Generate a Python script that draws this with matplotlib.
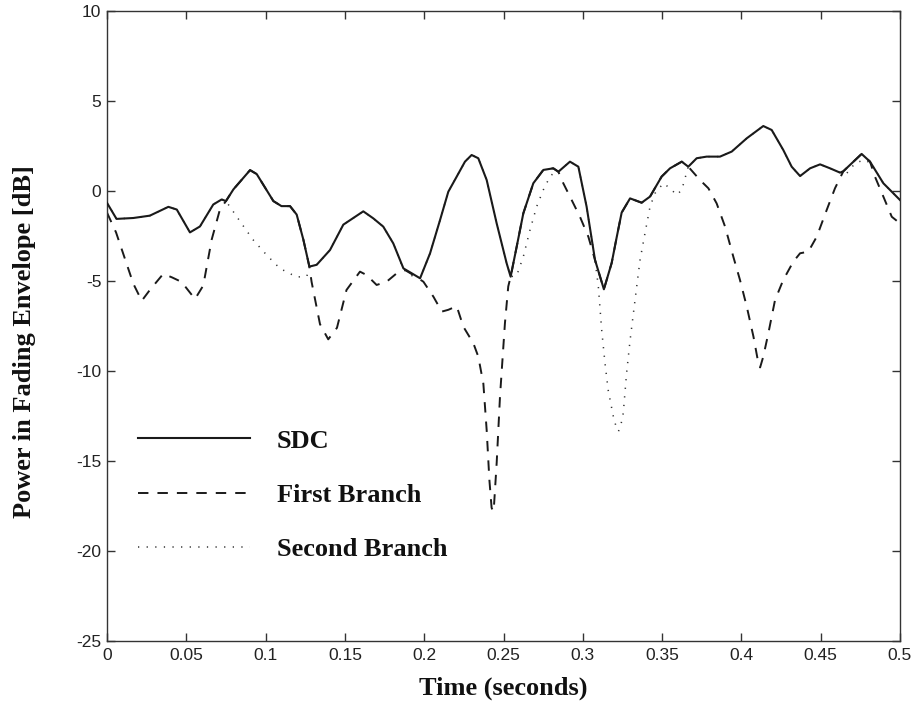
import matplotlib
matplotlib.use("Agg")
import matplotlib.pyplot as plt

# ---------------- data ----------------
sdc_t = [0.000, 0.006, 0.0166, 0.027, 0.0387, 0.044, 0.0523, 0.0586, 0.067, 0.0723,
         0.075, 0.0797, 0.0902, 0.0944, 0.1049, 0.110, 0.1154, 0.1196, 0.1238, 0.1276,
         0.1322, 0.1406, 0.149, 0.1616, 0.1679, 0.1742, 0.1805, 0.1869, 0.1921, 0.1974,
         0.2037, 0.210, 0.2152, 0.2205, 0.2257, 0.2299, 0.2341, 0.2394, 0.2457, 0.252,
         0.2545, 0.2583, 0.2625, 0.2688, 0.2751, 0.2814, 0.2846, 0.2919, 0.2972, 0.3024,
         0.3077, 0.3133, 0.3182, 0.3213, 0.3245, 0.3298, 0.3371, 0.3424, 0.3497, 0.355,
         0.3624, 0.3665, 0.3718, 0.3781, 0.3865, 0.3939, 0.4034, 0.4138, 0.4191, 0.4264,
         0.4317, 0.437, 0.4433, 0.4496, 0.4559, 0.4622, 0.4643, 0.4685, 0.4758, 0.4811,
         0.4895, 0.500]
sdc_v = [-0.66, -1.55, -1.50, -1.37, -0.88, -1.03, -2.30, -1.97, -0.75, -0.47,
         -0.56, 0.09, 1.16, 0.94, -0.56, -0.84, -0.84, -1.31, -2.70, -4.20,
         -4.10, -3.28, -1.87, -1.13, -1.52, -1.98, -2.91, -4.30, -4.57, -4.85,
         -3.46, -1.61, -0.04, 0.80, 1.63, 2.00, 1.82, 0.61, -1.80, -4.02,
         -4.76, -3.10, -1.24, 0.43, 1.17, 1.26, 1.07, 1.63, 1.35, -0.87,
         -3.83, -5.46, -4.00, -2.60, -1.20, -0.41, -0.65, -0.31, 0.80, 1.26,
         1.63, 1.35, 1.82, 1.91, 1.91, 2.19, 2.93, 3.61, 3.39, 2.28,
         1.35, 0.83, 1.26, 1.48, 1.26, 1.02, 1.10, 1.45, 2.06, 1.63,
         0.43, -0.50]

first_t = [0.000, 0.0057, 0.0166, 0.0219, 0.027, 0.0355, 0.041, 0.047, 0.0555, 0.0607,
           0.066, 0.0712, 0.075, 0.0797, 0.0902, 0.0944, 0.1049, 0.110, 0.1154, 0.1196,
           0.1238, 0.1276, 0.129, 0.1343, 0.1395, 0.145, 0.151, 0.1595, 0.1637, 0.170,
           0.1763, 0.1827, 0.1879, 0.1932, 0.1995, 0.2058, 0.2111, 0.2152, 0.2205, 0.2247,
           0.231, 0.2341, 0.2373, 0.2394, 0.2411, 0.2425, 0.2435, 0.244, 0.2457, 0.2478,
           0.2509, 0.253, 0.2545, 0.2583, 0.2625, 0.2688, 0.2751, 0.2814, 0.2846, 0.2877,
           0.2919, 0.2982, 0.3035, 0.3077, 0.3133, 0.3182, 0.3213, 0.3245, 0.3298, 0.3371,
           0.3424, 0.3497, 0.355, 0.3624, 0.3665, 0.3739, 0.3792, 0.3844, 0.3897, 0.3949,
           0.3991, 0.4034, 0.4076, 0.4107, 0.4118, 0.4138, 0.417, 0.4212, 0.4264, 0.4327,
           0.437, 0.4422, 0.4475, 0.4538, 0.459, 0.4643, 0.4685, 0.4758, 0.4811, 0.4842,
           0.4895, 0.4948, 0.500]
first_v = [-1.20, -2.30, -5.15, -6.10, -5.50, -4.60, -4.80, -5.05, -6.00, -5.25,
           -2.70, -1.03, -0.56, 0.09, 1.16, 0.94, -0.56, -0.84, -0.84, -1.31,
           -2.70, -4.20, -5.05, -7.40, -8.24, -7.60, -5.50, -4.48, -4.67, -5.22,
           -5.04, -4.57, -4.39, -4.67, -5.04, -5.87, -6.70, -6.60, -6.40, -7.54,
           -8.46, -9.20, -10.70, -13.30, -16.05, -17.60, -17.80, -17.50, -15.10, -11.40,
           -7.35, -5.30, -4.76, -3.10, -1.24, 0.43, 1.17, 1.26, 1.07, 0.43,
           -0.31, -1.43, -2.54, -3.83, -5.46, -4.00, -2.60, -1.20, -0.41, -0.65,
           -0.31, 0.80, 1.26, 1.63, 1.35, 0.61, 0.15, -0.69, -1.98, -3.65,
           -4.94, -6.43, -8.09, -9.57, -9.80, -9.20, -7.90, -6.06, -4.94, -3.93,
           -3.46, -3.37, -2.54, -1.05, 0.15, 1.10, 1.45, 2.06, 1.63, 0.80,
           -0.31, -1.43, -1.80]

second_t = [0.000, 0.006, 0.0166, 0.027, 0.0387, 0.044, 0.0523, 0.0586, 0.067, 0.0723,
            0.075, 0.0839, 0.092, 0.1007, 0.109, 0.1196, 0.126, 0.1276, 0.1322, 0.1406,
            0.149, 0.1616, 0.1679, 0.1742, 0.1805, 0.1869, 0.1921, 0.1974, 0.2037, 0.210,
            0.2152, 0.2205, 0.2257, 0.2299, 0.2341, 0.2394, 0.2457, 0.252, 0.2545, 0.2583,
            0.2625, 0.2667, 0.2709, 0.2751, 0.2793, 0.2814, 0.2846, 0.2919, 0.2972, 0.3024,
            0.3077, 0.3098, 0.3119, 0.314, 0.316, 0.3192, 0.3213, 0.3225, 0.3240, 0.3255,
            0.3276, 0.3298, 0.3319, 0.334, 0.3361, 0.3392, 0.3424, 0.3455, 0.3508, 0.355,
            0.3592, 0.3624, 0.3665, 0.3718, 0.3781, 0.3865, 0.3939, 0.4034, 0.4138, 0.4191,
            0.4264, 0.4317, 0.437, 0.4433, 0.4496, 0.4559, 0.4622, 0.4664, 0.4717, 0.477,
            0.479, 0.4811, 0.4895, 0.500]
second_v = [-0.66, -1.55, -1.50, -1.37, -0.88, -1.03, -2.30, -1.97, -0.75, -0.47,
            -0.56, -1.69, -2.70, -3.56, -4.30, -4.78, -4.74, -4.20, -4.10, -3.28,
            -1.87, -1.13, -1.52, -1.98, -2.91, -4.35, -4.70, -4.85, -3.46, -1.61,
            -0.04, 0.80, 1.63, 2.00, 1.82, 0.61, -1.80, -4.02, -4.76, -4.70,
            -3.65, -2.17, -0.87, 0.06, 0.80, 0.98, 1.07, 1.63, 1.35, -0.87,
            -3.83, -5.31, -7.72, -9.57, -11.06, -12.50, -13.20, -13.35, -13.00, -12.35,
            -10.13, -8.30, -6.80, -5.30, -3.83, -2.35, -0.87, -0.13, 0.43, 0.15,
            -0.22, 0.06, 1.35, 1.82, 1.91, 1.91, 2.19, 2.93, 3.61, 3.39,
            2.28, 1.35, 0.83, 1.26, 1.48, 1.26, 1.02, 0.98, 1.54, 1.72,
            1.63, 1.63, 0.43, -0.50]

labels = ["SDC", "First Branch", "Second Branch"]
xticks = [0, 0.05, 0.1, 0.15, 0.2, 0.25, 0.3, 0.35, 0.4, 0.45, 0.5]
xticklabels = ["0", "0.05", "0.1", "0.15", "0.2", "0.25", "0.3", "0.35", "0.4", "0.45", "0.5"]
yticks = [-25, -20, -15, -10, -5, 0, 5, 10]
yticklabels = ["-25", "-20", "-15", "-10", "-5", "0", "5", "10"]

# ---------------- figure ----------------
plt.rcParams['lines.scale_dashes'] = False
plt.rcParams['axes.unicode_minus'] = False
plt.rcParams['lines.solid_joinstyle'] = 'round'
plt.rcParams['lines.dash_joinstyle'] = 'round'

fig = plt.figure(figsize=(9.16, 7.08), dpi=100)
ax = fig.add_axes([107 / 916, 1 - 641 / 708, 793 / 916, 630 / 708])

ink = '#1a1a1a'
ax.plot(sdc_t, sdc_v, color=ink, lw=1.5, label=labels[0], zorder=3)
ax.plot(first_t, first_v, color=ink, lw=1.4, dashes=(7.5, 6.5), label=labels[1], zorder=2)
ax.plot(second_t, second_v, color='#333333', lw=1.1, dashes=(0.9, 5.3), label=labels[2], zorder=2)

ax.set_xlim(0, 0.5)
ax.set_ylim(-25, 10)
ax.set_xticks(xticks)
ax.set_xticklabels(xticklabels)
ax.set_yticks(yticks)
ax.set_yticklabels(yticklabels)

for sp in ax.spines.values():
    sp.set_linewidth(1.0)
    sp.set_color('#333333')

ax.tick_params(direction='in', length=6, width=1.0, color='#333333',
               top=True, right=True, labelsize=12.5, labelcolor='#222222')
ax.tick_params(axis='x', pad=5)
ax.tick_params(axis='y', pad=4)
for lab in ax.get_xticklabels() + ax.get_yticklabels():
    lab.set_family('Liberation Sans')

serif = dict(family='Liberation Serif', weight='bold', size=19, color='#111111')
ax.set_xlabel("Time (seconds)", **serif)
ax.set_ylabel("Power in Fading Envelope [dB]", **serif)
ax.xaxis.set_label_coords(0.5, -0.057)
ax.yaxis.set_label_coords(-0.0895, 0.4746)

leg = ax.legend(loc='center left', bbox_to_anchor=(0.039, 0.2317), frameon=False,
                prop=dict(family='Liberation Serif', weight='bold', size=19),
                handlelength=4.24, handletextpad=1.02, labelspacing=1.16,
                borderpad=0, borderaxespad=0)
for t in leg.get_texts():
    t.set_color('#111111')

fig.savefig("out.png", dpi=100)
